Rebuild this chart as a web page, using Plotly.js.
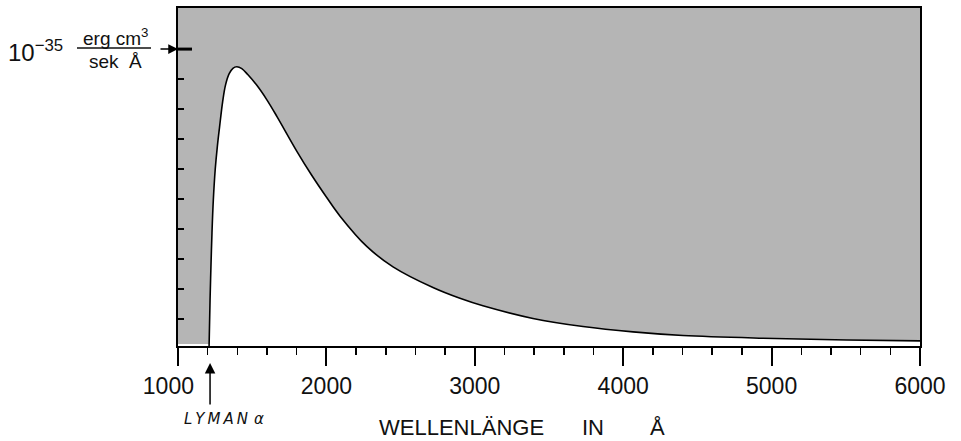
<!DOCTYPE html>
<html>
<head>
<meta charset="utf-8">
<script src="https://cdn.plot.ly/plotly-3.0.1.min.js"></script>
<style>html,body{margin:0;padding:0;background:#fff;}#chart{width:961px;height:441px;}</style>
</head>
<body>
<div id="chart"></div>
<script>
// Wavelength in Angstrom
const wavelength = [1209, 1216, 1222, 1229, 1238, 1251, 1265, 1280, 1301, 1320, 1345, 1370, 1396, 1430, 1470, 1530, 1600, 1667, 1800, 1900, 2002, 2092, 2272, 2449, 2718, 2900, 3055, 3392, 3729, 4066, 4403, 4942, 5508, 6000];
// Emission in units of 1e-35 erg cm^3 / (sek Å)
const emission = [0.0, 0.163, 0.274, 0.387, 0.497, 0.600, 0.675, 0.740, 0.825, 0.880, 0.918, 0.936, 0.941, 0.935, 0.915, 0.880, 0.830, 0.775, 0.660, 0.580, 0.505, 0.443, 0.342, 0.274, 0.205, 0.169, 0.144, 0.102, 0.075, 0.057, 0.045, 0.036, 0.030, 0.027];
const xTickVals = [1000, 2000, 3000, 4000, 5000, 6000];
const xTickLabels = ['1000', '2000', '3000', '4000', '5000', '6000'];
const yTickVals = [0.1, 0.2, 0.3, 0.4, 0.5, 0.6, 0.7, 0.8, 0.9];
const lymanAlpha = 1216;
const unitTick = 1.0;

const font = 'Liberation Sans, Arial, sans-serif';
const px = v => (v - 178) / 742;      // pixel x -> paper x
const py = v => (346 - v) / 338;      // pixel y -> paper y

const trace = {
  x: wavelength, y: emission, type: 'scatter', mode: 'lines',
  line: {color: '#000', width: 1.6, shape: 'spline', smoothing: 1},
  fill: 'tozeroy', fillcolor: '#ffffff', hoverinfo: 'skip', showlegend: false
};

const titleFont = {family: font, size: 22, color: '#111'};

const layout = {
  width: 961, height: 441,
  margin: {l: 178, r: 41, t: 8, b: 95},
  paper_bgcolor: '#ffffff', plot_bgcolor: '#ffffff',
  showlegend: false,
  font: {family: font, color: '#111'},
  xaxis: {
    range: [1000, 6000], tickvals: xTickVals,
    ticktext: xTickLabels.map((t, i) => i === 0 ? t + '\u00a0\u00a0\u00a0' : t),
    ticks: 'outside', ticklen: 18, tickwidth: 2, tickcolor: '#000',
    minor: {dtick: 200, tick0: 1000, ticks: 'outside', ticklen: 7, tickwidth: 1.5, tickcolor: '#000', showgrid: false},
    showline: true, linewidth: 2, linecolor: '#000', mirror: true,
    showgrid: false, zeroline: false,
    tickfont: {family: font, size: 23, color: '#111'}
  },
  yaxis: {
    range: [0.01, 1.137], tickvals: yTickVals,
    ticks: 'inside', ticklen: 6, tickwidth: 2, tickcolor: '#000',
    showticklabels: false,
    showline: true, linewidth: 2, linecolor: '#000', mirror: true,
    showgrid: false, zeroline: false
  },
  shapes: [
    {type: 'rect', xref: 'paper', yref: 'y', x0: 0, x1: 1, y0: 0.017, y1: 1.2, fillcolor: '#b5b5b5', line: {width: 0}, layer: 'below'},
    {type: 'line', xref: 'paper', yref: 'y', x0: 0, x1: px(192), y0: unitTick, y1: unitTick, line: {color: '#000', width: 3}},
    {type: 'line', xref: 'paper', yref: 'paper', x0: px(77), x1: px(151), y0: py(48), y1: py(48), line: {color: '#111', width: 1.5}}
  ],
  annotations: [
    {xref: 'x', yref: 'y', x: 1000, y: unitTick, ax: -19, ay: 0, text: '', showarrow: true, arrowhead: 2, arrowsize: 1.3, arrowwidth: 1.5, arrowcolor: '#000'},
    {xref: 'paper', yref: 'paper', x: px(35), y: py(51), text: '10<sup>\u221235</sup>', showarrow: false, xanchor: 'center', yanchor: 'middle', font: {family: font, size: 24, color: '#111'}},
    {xref: 'paper', yref: 'paper', x: px(115), y: py(37), text: 'erg\u00a0cm<sup>3</sup>', showarrow: false, xanchor: 'center', yanchor: 'middle', font: {family: font, size: 19, color: '#111'}},
    {xref: 'paper', yref: 'paper', x: px(115), y: py(61), text: 'sek\u00a0\u00a0\u00c5', showarrow: false, xanchor: 'center', yanchor: 'middle', font: {family: font, size: 19, color: '#111'}},
    {xref: 'x', yref: 'paper', x: lymanAlpha, y: py(363), ax: 0, ay: 43, text: '', showarrow: true, arrowhead: 2, arrowsize: 1.4, arrowwidth: 1.5, arrowcolor: '#000'},
    {xref: 'paper', yref: 'paper', x: px(224), y: py(419), text: '<i>L\u2009Y\u2009M\u2009A\u2009N\u2009\u2009\u03b1</i>', showarrow: false, xanchor: 'center', yanchor: 'middle', font: {family: 'DejaVu Sans, sans-serif', size: 15, color: '#111'}},
    {xref: 'paper', yref: 'paper', x: px(461), y: py(427), text: 'WELLENL\u00c4NGE', showarrow: false, xanchor: 'center', yanchor: 'middle', borderpad: 0, font: titleFont},
    {xref: 'paper', yref: 'paper', x: px(593), y: py(427), text: 'IN', showarrow: false, xanchor: 'center', yanchor: 'middle', borderpad: 0, font: titleFont},
    {xref: 'paper', yref: 'paper', x: px(657), y: py(427), text: '\u00c5', showarrow: false, xanchor: 'center', yanchor: 'middle', borderpad: 0, font: titleFont}
  ]
};

Plotly.newPlot('chart', [trace], layout, {displayModeBar: false, staticPlot: true});
</script>
</body>
</html>
